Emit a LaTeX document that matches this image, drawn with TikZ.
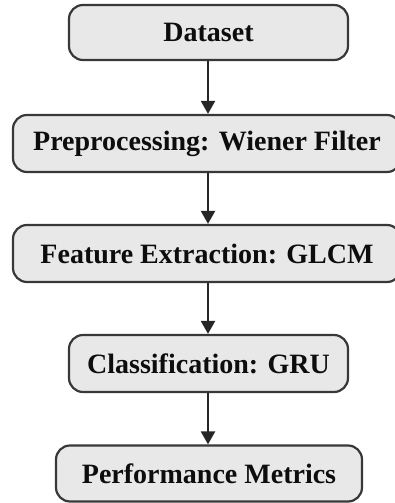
\documentclass[tikz,border=0pt]{standalone}
\usepackage{fontspec}
\setmainfont{Liberation Serif}
\usetikzlibrary{arrows.meta}
\begin{document}
\begin{tikzpicture}[x=1pt,y=-1pt,
  stepbox/.style={draw=black!78, line width=2.2pt, fill=black!9, rounded corners=14pt,
    inner sep=0pt, font=\fontsize{28}{31}\selectfont\bfseries, text=black!95},
  flow/.style={draw=black!85, line width=2.2pt, -{Triangle[length=13pt,width=14pt]}}]
\useasboundingbox (0,0) rectangle (395,503);
\clip (0,0) rectangle (395,503);
\node[stepbox, minimum width=279pt, minimum height=55pt] (ds) at (208.5,32.5) {Dataset};
\node[stepbox, minimum width=388pt, minimum height=57pt] (pp) at (207,143.5) {Preprocessing: Wiener Filter};
\node[stepbox, minimum width=388pt, minimum height=57pt] (fe) at (207,253.5) {Feature Extraction: GLCM};
\node[stepbox, minimum width=279pt, minimum height=57pt] (cl) at (208.5,363.5) {Classification: GRU};
\node[stepbox, minimum width=306pt, minimum height=56pt] (pm) at (209,473.5) {Performance Metrics};
\draw[flow] (ds.south -| 208,0) -- (pp.north -| 208,0);
\draw[flow] (pp.south -| 208,0) -- (fe.north -| 208,0);
\draw[flow] (fe.south -| 208,0) -- (cl.north -| 208,0);
\draw[flow] (cl.south -| 208,0) -- (pm.north -| 208,0);
\end{tikzpicture}
\end{document}
